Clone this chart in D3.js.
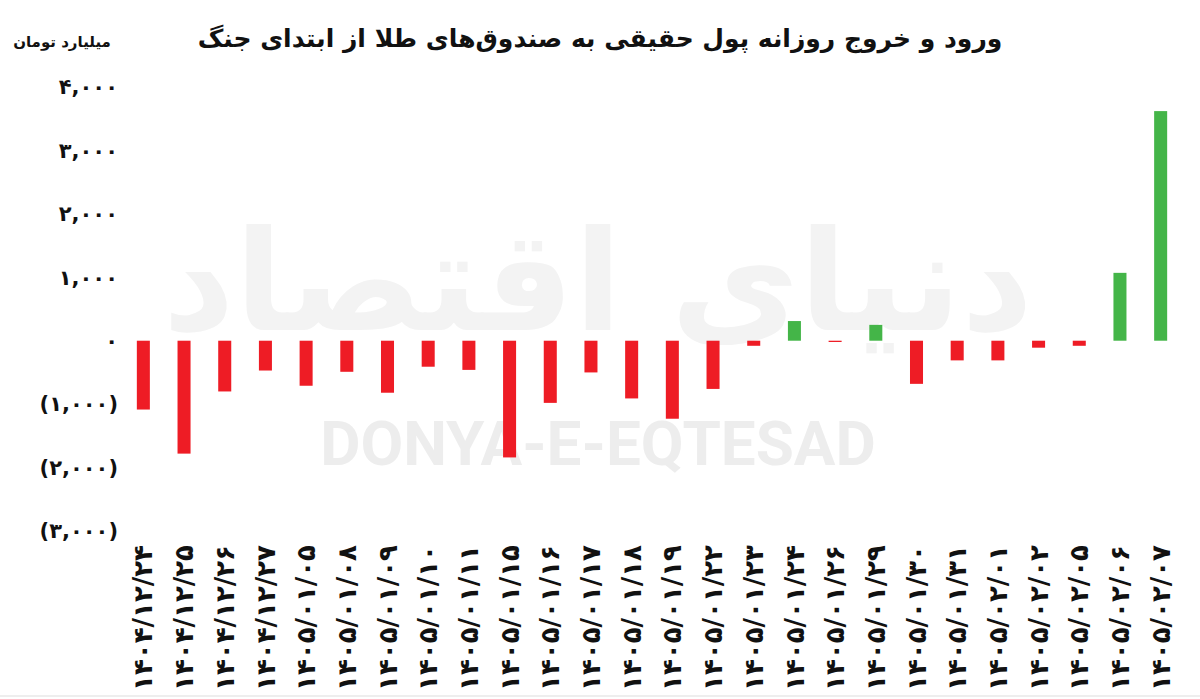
<!DOCTYPE html><html><head><meta charset="utf-8">
<script src="https://cdn.jsdelivr.net/npm/d3@7"></script>
<style>body{margin:0;background:#fff}</style></head><body><svg id="c" width="1200" height="699"></svg>
<script>
const categories=["۱۴۰۴/۱۲/۲۴","۱۴۰۴/۱۲/۲۵","۱۴۰۴/۱۲/۲۶","۱۴۰۴/۱۲/۲۷","۱۴۰۵/۰۱/۰۵","۱۴۰۵/۰۱/۰۸","۱۴۰۵/۰۱/۰۹","۱۴۰۵/۰۱/۱۰","۱۴۰۵/۰۱/۱۱","۱۴۰۵/۰۱/۱۵","۱۴۰۵/۰۱/۱۶","۱۴۰۵/۰۱/۱۷","۱۴۰۵/۰۱/۱۸","۱۴۰۵/۰۱/۱۹","۱۴۰۵/۰۱/۲۲","۱۴۰۵/۰۱/۲۳","۱۴۰۵/۰۱/۲۴","۱۴۰۵/۰۱/۲۶","۱۴۰۵/۰۱/۲۹","۱۴۰۵/۰۱/۳۰","۱۴۰۵/۰۱/۳۱","۱۴۰۵/۰۲/۰۱","۱۴۰۵/۰۲/۰۲","۱۴۰۵/۰۲/۰۵","۱۴۰۵/۰۲/۰۶","۱۴۰۵/۰۲/۰۷"];
const values=[-1085,-1780,-800,-470,-710,-490,-820,-410,-460,-1840,-980,-500,-910,-1230,-760,-80,310,-20,250,-680,-310,-310,-110,-80,1070,3620];
const tickValues=[4000,3000,2000,1000,0,-1000,-2000,-3000];
const tickLabels=["۴,۰۰۰","۳,۰۰۰","۲,۰۰۰","۱,۰۰۰","۰","(۱,۰۰۰)","(۲,۰۰۰)","(۳,۰۰۰)"];
const title="ورود و خروج روزانه پول حقیقی به صندوق‌های طلا از ابتدای جنگ";
const unit="میلیارد تومان";

const svg=d3.select("#c");
const F="'DejaVu Sans', 'Noto Sans', sans-serif";
const y=d3.scaleLinear().domain([-3000,4000]).range([531,87]);
const x=d3.scaleBand().domain(categories).range([123,1181]).paddingInner(0.68).paddingOuter(0.34);
svg.append("text").attr("x",598).attr("y",465).attr("text-anchor","middle").attr("font-family","Roboto, sans-serif").attr("font-weight","bold").attr("font-size",62).attr("fill","#ededed").text("DONYA-E-EQTESAD");
svg.append("text").attr("x",598).attr("y",330).attr("text-anchor","middle").attr("font-family",F).attr("font-weight","bold").attr("font-size",140).attr("fill","#f3f3f3").text("دنیای اقتصاد");
svg.append("text").attr("x",600).attr("y",47).attr("text-anchor","middle").attr("font-family",F).attr("font-weight","bold").attr("font-size",25).attr("fill","#111").attr("direction","rtl").text(title);
svg.append("text").attr("x",62).attr("y",47).attr("text-anchor","middle").attr("font-family",F).attr("font-weight","bold").attr("font-size",15).attr("fill","#111").attr("direction","rtl").text(unit);
const ya=svg.append("g").attr("transform","translate(118,0)").call(d3.axisLeft(y).tickValues(tickValues).tickFormat((d,i)=>tickLabels[i]).tickSize(0).tickPadding(0));
ya.select(".domain").remove();
ya.selectAll("text").attr("font-family",F).attr("font-weight","bold").attr("font-size",21).attr("fill","#111").attr("x",0);
svg.selectAll("rect.b").data(values).join("rect").attr("class","b")
 .attr("x",(d,i)=>x(categories[i])).attr("width",x.bandwidth())
 .attr("y",d=>y(Math.max(0,d))).attr("height",d=>Math.abs(y(d)-y(0)))
 .attr("fill",d=>d>=0?"#44b548":"#ee1c25");
const xa=svg.append("g").attr("transform","translate(0,545)").call(d3.axisBottom(x).tickSize(0).tickPadding(0));
xa.select(".domain").remove();
xa.selectAll("text").attr("font-family",F).attr("font-weight","bold").attr("font-size",26).attr("fill","#111")
 .attr("transform","rotate(-90)").attr("text-anchor","end").attr("dy","0.35em").attr("x",0).attr("y",0).attr("direction","ltr");
svg.append("line").attr("x1",0).attr("x2",1200).attr("y1",696).attr("y2",696).attr("stroke","#ddd");
</script></body></html>
